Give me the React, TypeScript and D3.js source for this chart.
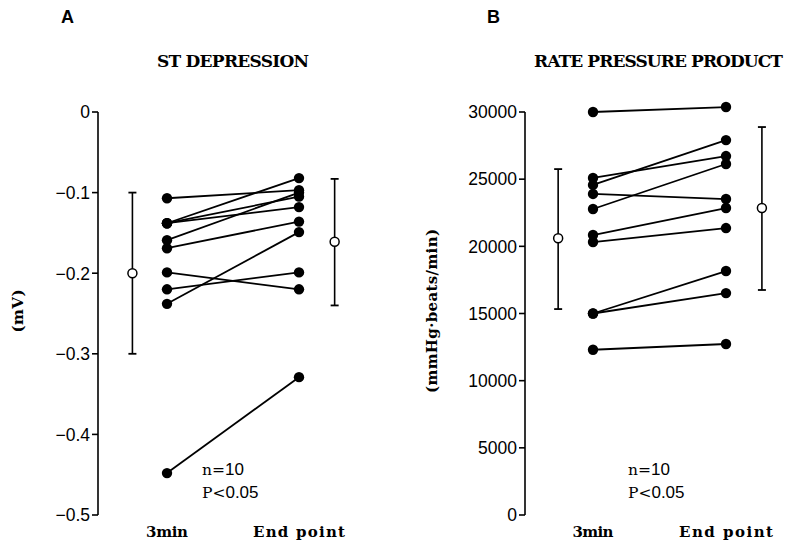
import React from "react";
import * as d3 from "d3";

// Panel A: ST depression (mV)
const stTicks = [0, -0.1, -0.2, -0.3, -0.4, -0.5];
const st3min = [-0.107, -0.138, -0.138, -0.138, -0.159, -0.169, -0.199, -0.22, -0.238, -0.448];
const stEnd = [-0.097, -0.082, -0.105, -0.118, -0.1, -0.136, -0.22, -0.199, -0.149, -0.329];
const stMean = [-0.2, -0.161]; // [3min, end point]
const stLow = [-0.3, -0.24];
const stHigh = [-0.1, -0.083];

// Panel B: rate pressure product (mmHg·beats/min)
const rppTicks = [0, 5000, 10000, 15000, 20000, 25000, 30000];
const rpp3min = [30000, 25090, 24570, 23900, 22780, 20840, 20320, 15000, 15000, 12300];
const rppEnd = [30370, 26720, 27910, 23520, 26130, 22850, 21360, 18160, 16520, 12730];
const rppMean = [20600, 22850];
const rppLow = [15330, 16750];
const rppHigh = [25750, 28880];

const categories = ["3min", "End point"];

const SERIF = "'DejaVu Serif', 'Liberation Serif', serif";
const SANS = "'Liberation Sans', Arial, Helvetica, sans-serif";

type PanelProps = {
  letter: string;
  title: string;
  titleX: number;
  titleLen: number;
  yLabel: string;
  yLabelX: number;
  yLabelLen: number;
  catLens: number[];
  axisX: number;
  x0: number;
  x1: number;
  yDomain: [number, number];
  ticks: number[];
  fmt: (v: number) => string;
  a: number[];
  b: number[];
  mean: number[];
  low: number[];
  high: number[];
  letterX: number;
};

function Panel(p: PanelProps) {
  const y = d3.scaleLinear().domain(p.yDomain).range([515, 112]);
  const x = d3.scaleLinear().domain([0, 1]).range([p.x0, p.x1]);
  const meanPos = [-0.262, 1.27];
  return (
    <g>
      <text x={p.letterX} y={23} fontFamily={SANS} fontWeight="bold" fontSize={18}>
        {p.letter}
      </text>
      <text
        x={p.titleX}
        y={67}
        fontFamily={SERIF}
        fontWeight="bold"
        fontSize={17}
        textLength={p.titleLen}
        lengthAdjust="spacing"
      >
        {p.title}
      </text>
      {/* y axis */}
      <line x1={p.axisX} x2={p.axisX} y1={y.range()[1]} y2={y.range()[0]} stroke="#000" strokeWidth={1.6} />
      {p.ticks.map((t) => (
        <g key={t}>
          <line x1={p.axisX - 6} x2={p.axisX} y1={y(t)} y2={y(t)} stroke="#000" strokeWidth={1.6} />
          <text
            x={p.axisX - 8}
            y={y(t)}
            dy="0.36em"
            textAnchor="end"
            fontFamily={SANS}
            fontSize={17.5}
          >
            {p.fmt(t)}
          </text>
        </g>
      ))}
      <text
        transform={`translate(${p.yLabelX},${311}) rotate(-90)`}
        textAnchor="middle"
        dy="0.35em"
        fontFamily={SERIF}
        fontWeight="bold"
        fontSize={15}
        textLength={p.yLabelLen}
        lengthAdjust="spacing"
      >
        {p.yLabel}
      </text>
      {/* paired lines */}
      {p.a.map((v, i) => (
        <line key={"l" + i} x1={x(0)} x2={x(1)} y1={y(v)} y2={y(p.b[i])} stroke="#000" strokeWidth={1.8} />
      ))}
      {p.a.map((v, i) => (
        <circle key={"a" + i} cx={x(0)} cy={y(v)} r={5.2} fill="#000" />
      ))}
      {p.b.map((v, i) => (
        <circle key={"b" + i} cx={x(1)} cy={y(v)} r={5.2} fill="#000" />
      ))}
      {/* mean ± SD */}
      {p.mean.map((m, i) => {
        const cx = x(meanPos[i]);
        return (
          <g key={"m" + i}>
            <line x1={cx} x2={cx} y1={y(p.high[i])} y2={y(p.low[i])} stroke="#000" strokeWidth={1.6} />
            <line x1={cx - 4} x2={cx + 4} y1={y(p.high[i])} y2={y(p.high[i])} stroke="#000" strokeWidth={1.8} />
            <line x1={cx - 4} x2={cx + 4} y1={y(p.low[i])} y2={y(p.low[i])} stroke="#000" strokeWidth={1.8} />
            <circle cx={cx} cy={y(m)} r={4.5} fill="#fff" stroke="#000" strokeWidth={1.5} />
          </g>
        );
      })}
      {/* category labels */}
      {categories.map((c, i) => (
        <text
          key={c}
          x={x(i) - p.catLens[i] / 2}
          y={537}
          fontFamily={SERIF}
          fontWeight="bold"
          fontSize={15}
          textLength={p.catLens[i]}
          lengthAdjust="spacing"
        >
          {c}
        </text>
      ))}
      {/* annotation */}
      <text x={x(0) + 35} y={475} fontSize={17}>
        <tspan fontFamily={SERIF} fontSize={15.5}>n=</tspan>
        <tspan fontFamily={SANS}>10</tspan>
      </text>
      <text x={x(0) + 35} y={498} fontSize={17}>
        <tspan fontFamily={SERIF} fontSize={15.5}>P&lt;</tspan>
        <tspan fontFamily={SANS}>0.05</tspan>
      </text>
    </g>
  );
}

export default function App() {
  const fmtA = (v: number) => (v === 0 ? "0" : "\u2212" + d3.format(".1f")(Math.abs(v)));
  const fmtB = (v: number) => String(v);
  return (
    <svg
      width={786}
      height={541}
      style={{ position: "absolute", left: 0, top: 0, background: "#fff" }}
    >
      <rect width={786} height={541} fill="#fff" />
      <Panel
        letter="A"
        letterX={61}
        title="ST DEPRESSION"
        titleX={157}
        titleLen={152}
        yLabel="(mV)"
        yLabelX={18}
        yLabelLen={43}
        catLens={[42, 92]}
        axisX={98}
        x0={167}
        x1={299}
        yDomain={[-0.5, 0]}
        ticks={stTicks}
        fmt={fmtA}
        a={st3min}
        b={stEnd}
        mean={stMean}
        low={stLow}
        high={stHigh}
      />
      <Panel
        letter="B"
        letterX={487}
        title="RATE PRESSURE PRODUCT"
        titleX={534}
        titleLen={249}
        yLabel="(mmHg·beats/min)"
        yLabelX={432}
        yLabelLen={164}
        catLens={[41, 94]}
        axisX={525}
        x0={593}
        x1={726}
        yDomain={[0, 30000]}
        ticks={rppTicks}
        fmt={fmtB}
        a={rpp3min}
        b={rppEnd}
        mean={rppMean}
        low={rppLow}
        high={rppHigh}
      />
    </svg>
  );
}
